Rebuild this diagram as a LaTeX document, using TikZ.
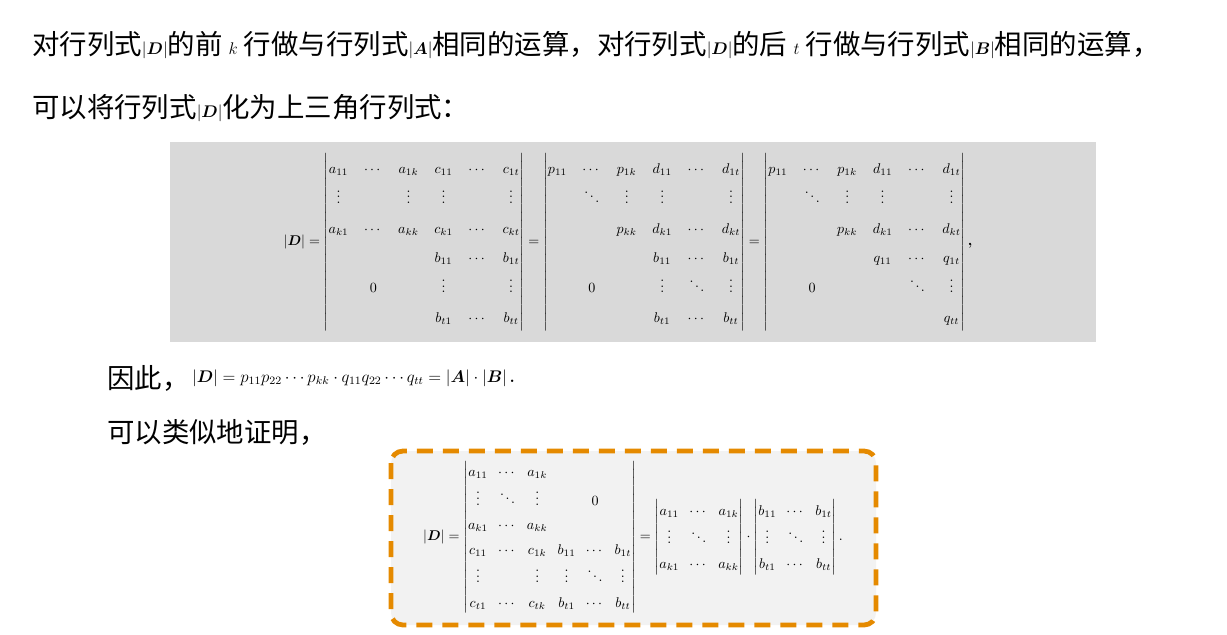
\documentclass[tikz,border=0pt]{standalone}
\usepackage{amsmath}
\usepackage{bm}
\usepackage{fontspec}
\newfontfamily\cjk{Noto Sans CJK SC}
\usetikzlibrary{positioning}
\newcommand\smallmath[1]{{\fontsize{13}{15}\selectfont$#1$}}

\begin{document}
\begin{tikzpicture}[
    x=0.025cm, y=-0.025cm,
    line/.style={anchor=west, inner sep=0pt, font=\cjk\fontsize{19.5}{22}\selectfont},
    formula/.style={inner sep=0pt, font=\fontsize{10}{12}\selectfont},
    bigdet/.style={formula, execute at begin node={\renewcommand\arraystretch{1.75}\setlength\arraycolsep{5.5pt}}},
    smalldet/.style={formula, execute at begin node={\renewcommand\arraystretch{1.45}\setlength\arraycolsep{3.6pt}}}
]
\useasboundingbox (0,0) rectangle (1227,635);

\node[line] (intro) at (32,45) {对行列式\smallmath{|\bm{D}|}的前 \smallmath{k} 行做与行列式\smallmath{|\bm{A}|}相同的运算，对行列式\smallmath{|\bm{D}|}的后 \smallmath{t} 行做与行列式\smallmath{|\bm{B}|}相同的运算，};
\node[line] (intro2) at (32,108) {可以将行列式\smallmath{|\bm{D}|}化为上三角行列式：};

% gray panel with the main expansion
\fill[black!15] (170,142) rectangle (1096,342);
\node[bigdet] (main) at (628,242) {$\left|\bm{D}\right| =
\begin{vmatrix}
a_{11} & \cdots & a_{1k} & c_{11} & \cdots & c_{1t}\\
\vdots & & \vdots & \vdots & & \vdots\\
a_{k1} & \cdots & a_{kk} & c_{k1} & \cdots & c_{kt}\\
 & & & b_{11} & \cdots & b_{1t}\\
 & 0 & & \vdots & & \vdots\\
 & & & b_{t1} & \cdots & b_{tt}
\end{vmatrix} =
\begin{vmatrix}
p_{11} & \cdots & p_{1k} & d_{11} & \cdots & d_{1t}\\
 & \ddots & \vdots & \vdots & & \vdots\\
 & & p_{kk} & d_{k1} & \cdots & d_{kt}\\
 & & & b_{11} & \cdots & b_{1t}\\
 & 0 & & \vdots & \ddots & \vdots\\
 & & & b_{t1} & \cdots & b_{tt}
\end{vmatrix} =
\begin{vmatrix}
p_{11} & \cdots & p_{1k} & d_{11} & \cdots & d_{1t}\\
 & \ddots & \vdots & \vdots & & \vdots\\
 & & p_{kk} & d_{k1} & \cdots & d_{kt}\\
 & & & q_{11} & \cdots & q_{1t}\\
 & 0 & & & \ddots & \vdots\\
 & & & & & q_{tt}
\end{vmatrix}\text{\bfseries ,}$};

\node[line] (hence) at (107,378) {因此，};
\node[formula, anchor=west, font=\fontsize{12}{14}\selectfont] (product) at (192,378)
  {$\left|\bm{D}\right| = p_{11}p_{22}\cdots p_{kk}\cdot q_{11}q_{22}\cdots q_{tt} = \left|\bm{A}\right|\cdot\left|\bm{B}\right|\textbf{.}$};
\node[line] (similar) at (107,432) {可以类似地证明，};

% dashed orange panel
\draw[orange!80!yellow!90!black, fill=black!5, line width=1.2mm, dash pattern=on 4mm off 2.5mm, rounded corners=3mm]
  (391,451) rectangle (876,625);
\node[smalldet] (second) at (633,537) {$\left|\bm{D}\right| =
\begin{vmatrix}
a_{11} & \cdots & a_{1k} & & & \\
\vdots & \ddots & \vdots & & 0 & \\
a_{k1} & \cdots & a_{kk} & & & \\
c_{11} & \cdots & c_{1k} & b_{11} & \cdots & b_{1t}\\
\vdots & & \vdots & \vdots & \ddots & \vdots\\
c_{t1} & \cdots & c_{tk} & b_{t1} & \cdots & b_{tt}
\end{vmatrix} =
\begin{vmatrix}
a_{11} & \cdots & a_{1k}\\
\vdots & \ddots & \vdots\\
a_{k1} & \cdots & a_{kk}
\end{vmatrix}\cdot
\begin{vmatrix}
b_{11} & \cdots & b_{1t}\\
\vdots & \ddots & \vdots\\
b_{t1} & \cdots & b_{tt}
\end{vmatrix}.$};
\end{tikzpicture}
\end{document}
